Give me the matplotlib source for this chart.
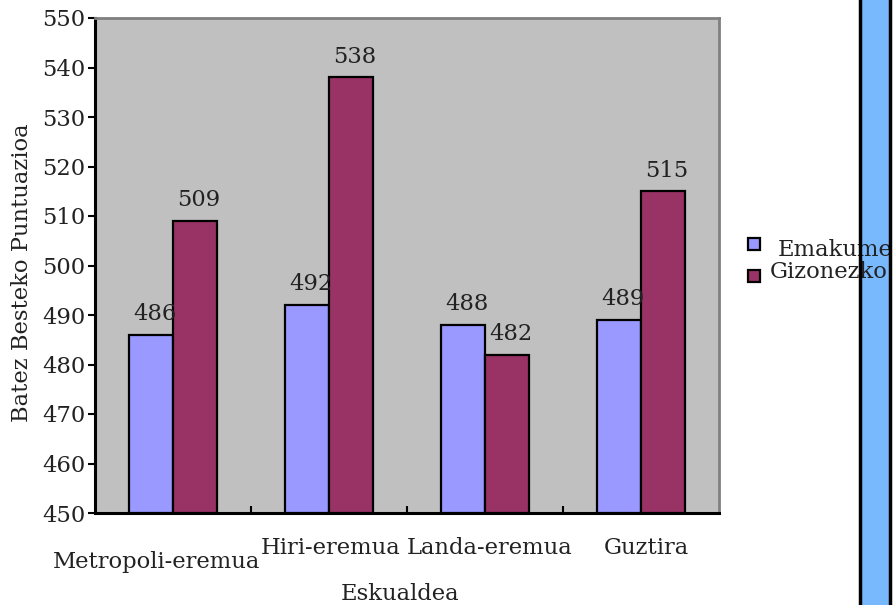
import matplotlib
matplotlib.use("Agg")
import matplotlib.pyplot as plt
from matplotlib.patches import Rectangle
from matplotlib.lines import Line2D
import numpy as np

categories = ["Metropoli-eremua", "Hiri-eremua", "Landa-eremua", "Guztira"]
series_names = ["Emakume", "Gizonezko"]
emakume = [486, 492, 488, 489]
gizonezko = [509, 538, 482, 515]
colors = ["#9999FF", "#993366"]
yticks = list(range(450, 551, 10))

plt.rcParams['font.family'] = ['DejaVu Serif']
FS = 16.3

fig = plt.figure(figsize=(8.94, 6.05), dpi=100)
ax = fig.add_axes([95/894, 1-513/605, 624/894, 495/605])
ax.set_facecolor("#C0C0C0")

x = np.arange(len(categories))
w = 0.282
for i, (vals, col) in enumerate(zip([emakume, gizonezko], colors)):
    pos = x + (i - 0.5) * w
    ax.bar(pos, [v - 450 for v in vals], bottom=450, width=w, color=col,
           edgecolor="black", linewidth=1.6, zorder=3)
    for p, v in zip(pos, vals):
        ax.annotate(str(v), (p, v), xytext=(3, 7), textcoords="offset points",
                    ha="center", va="bottom", fontsize=FS, color="#222222", zorder=4)

ax.set_xlim(-0.5, len(categories) - 0.5)
ax.set_ylim(450, 550)
ax.set_yticks(yticks)
ax.set_yticklabels([str(t) for t in yticks], fontsize=FS, color="#222222")
ax.tick_params(axis="y", direction="out", length=5, width=1.5, pad=2)

ax.set_xticks(np.arange(len(categories) - 1) + 0.5)
ax.set_xticklabels([])
ax.tick_params(axis="x", direction="in", length=5, width=1.5)

offsets = [(-16, -49), (2, -35), (5, -35), (5, -35)]
for xi, (lab, (dx, dy)) in enumerate(zip(categories, offsets)):
    ax.annotate(lab, (xi, 0), xycoords=("data", "axes fraction"), xytext=(dx * 0.72, dy * 0.72),
                textcoords="offset points", ha="center", va="center", fontsize=FS, color="#222222")

for s in ["left", "bottom"]:
    ax.spines[s].set_color("black")
    ax.spines[s].set_linewidth(2.2)
for s in ["top", "right"]:
    ax.spines[s].set_color("#808080")
    ax.spines[s].set_linewidth(2.0)

fig.text(400/894, 1-594/605, "Eskualdea", ha="center", va="center", fontsize=FS, color="#222222")
fig.text(22/894, 1-273/605, "Batez Besteko Puntuazioa", ha="center", va="center",
         rotation=90, fontsize=FS, color="#222222")

# right blue bar
fig.patches.append(Rectangle((859/894, 0), 31/894, 1, transform=fig.transFigure,
                             facecolor="#78B9FE", edgecolor="none", zorder=0))

# legend
leg_marker_y = [244, 276]
leg_text = [(778, 250), (770, 272)]
for name, col, my, (tx, ty) in zip(series_names, colors, leg_marker_y, leg_text):
    fig.patches.append(Rectangle((748/894, 1-(my+6)/605), 12/894, 12/605, transform=fig.transFigure,
                                 facecolor=col, edgecolor="black", linewidth=1.6, zorder=2))
    fig.text(tx/894, 1-ty/605, name, ha="left", va="center", fontsize=FS, color="#222222", zorder=3)

for xb in [859.5, 889.5]:
    fig.lines.append(Line2D([xb/894, xb/894], [0, 1], transform=fig.transFigure,
                            color="black", linewidth=2.5, zorder=5))

fig.savefig("out.png", dpi=100)
